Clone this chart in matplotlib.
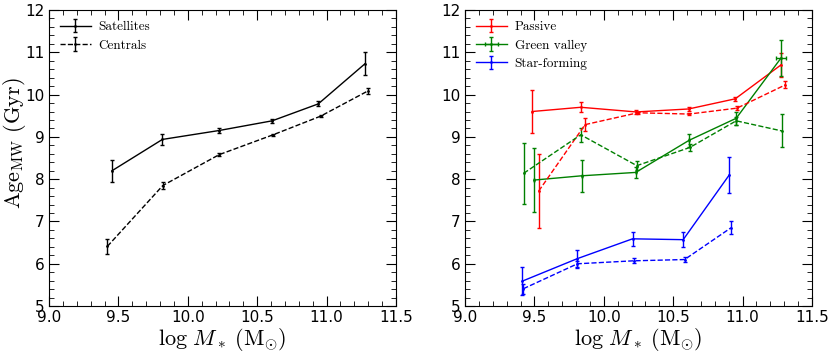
import numpy as np
import matplotlib.pyplot as plt
from matplotlib.ticker import MultipleLocator

plt.rcParams['mathtext.fontset'] = 'cm'

# left panel: satellites vs centrals
sat_x = [9.454, 9.817, 10.224, 10.608, 10.94, 11.277]
sat_y = [8.20, 8.94, 9.15, 9.38, 9.78, 10.73]
sat_e = [0.26, 0.12, 0.06, 0.05, 0.06, 0.27]
cen_x = [9.42, 9.82, 10.226, 10.615, 10.957, 11.30]
cen_y = [6.41, 7.85, 8.58, 9.05, 9.49, 10.09]
cen_e = [0.17, 0.08, 0.04, 0.03, 0.03, 0.07]

# right panel: solid = satellites, dashed = centrals
pas_sat_x = [9.483, 9.834, 10.233, 10.611, 10.947, 11.276]
pas_sat_y = [9.60, 9.70, 9.59, 9.66, 9.90, 10.70]
pas_sat_e = [0.51, 0.12, 0.05, 0.05, 0.05, 0.28]
pas_cen_x = [9.531, 9.865, 10.245, 10.615, 10.96, 11.308]
pas_cen_y = [7.72, 9.29, 9.57, 9.54, 9.68, 10.23]
pas_cen_e = [0.87, 0.15, 0.03, 0.03, 0.04, 0.08]

gv_sat_x = [9.50, 9.84, 10.23, 10.615, 10.954, 11.276]
gv_sat_y = [7.98, 8.08, 8.16, 8.92, 9.44, 10.86]
gv_sat_e = [0.76, 0.38, 0.13, 0.15, 0.15, 0.43]
gv_sat_xe = [0.0, 0.0, 0.0, 0.0, 0.0, 0.035]
gv_cen_x = [9.423, 9.834, 10.238, 10.62, 10.954, 11.284]
gv_cen_y = [8.14, 9.05, 8.32, 8.75, 9.38, 9.14]
gv_cen_e = [0.72, 0.17, 0.10, 0.08, 0.10, 0.39]

sf_sat_x = [9.413, 9.808, 10.207, 10.572, 10.904]
sf_sat_y = [5.59, 6.12, 6.59, 6.57, 8.10]
sf_sat_e = [0.33, 0.21, 0.17, 0.17, 0.42]
sf_cen_x = [9.42, 9.81, 10.214, 10.582, 10.916]
sf_cen_y = [5.41, 6.00, 6.07, 6.10, 6.85]
sf_cen_e = [0.12, 0.07, 0.06, 0.06, 0.15]

fig = plt.figure(figsize=(8.31, 3.51), dpi=100)
ax1 = fig.add_axes([0.059, 0.128, 0.4175, 0.8435])
ax2 = fig.add_axes([0.5596, 0.128, 0.4175, 0.8435])


def ebar(ax, x, y, e, color, ls, label=None, xe=None):
    ax.errorbar(x, y, yerr=e, xerr=xe, color=color, ls=ls, lw=1.0,
                marker='.', ms=2, elinewidth=1.0, capsize=1.3, label=label)


ebar(ax1, sat_x, sat_y, sat_e, 'k', '-', 'Satellites')
ebar(ax1, cen_x, cen_y, cen_e, 'k', '--', 'Centrals')

ebar(ax2, pas_sat_x, pas_sat_y, pas_sat_e, 'r', '-', 'Passive')
ebar(ax2, gv_sat_x, gv_sat_y, gv_sat_e, 'g', '-', 'Green valley', xe=gv_sat_xe)
ebar(ax2, sf_sat_x, sf_sat_y, sf_sat_e, 'b', '-', 'Star-forming')
ebar(ax2, pas_cen_x, pas_cen_y, pas_cen_e, 'r', '--')
ebar(ax2, gv_cen_x, gv_cen_y, gv_cen_e, 'g', '--')
ebar(ax2, sf_cen_x, sf_cen_y, sf_cen_e, 'b', '--')

for ax in (ax1, ax2):
    ax.set_xlim(9.0, 11.5)
    ax.set_ylim(5, 12)
    ax.xaxis.set_major_locator(MultipleLocator(0.5))
    ax.xaxis.set_minor_locator(MultipleLocator(0.1))
    ax.yaxis.set_major_locator(MultipleLocator(1))
    ax.yaxis.set_minor_locator(MultipleLocator(0.2))
    ax.xaxis.set_major_formatter(plt.FormatStrFormatter('%.1f'))
    ax.tick_params(which='both', direction='in', top=True, right=True, labelsize=11)
    ax.tick_params(which='major', length=7, width=0.8, pad=3)
    ax.tick_params(which='minor', length=3.5, width=0.6)
    ax.set_xlabel(r'$\log\,M_*\;(\mathrm{M}_{\odot})$', fontsize=16)
    ax.xaxis.set_label_coords(0.5, -0.066, transform=ax.transAxes)
    ax.xaxis.label.set_va('top')
    ax.legend(loc='upper left', frameon=False, handlelength=2.3, handletextpad=0.6,
              labelspacing=0.45, borderaxespad=0.45,
              prop={'family': 'cmr10', 'size': 9.5})

ax1.set_ylabel(r'$\mathrm{Age}_{\mathrm{MW}}\ (\mathrm{Gyr})$', fontsize=16)
ax1.yaxis.set_label_coords(-0.062, 0.55)

fig.savefig('out.png', dpi=100)
